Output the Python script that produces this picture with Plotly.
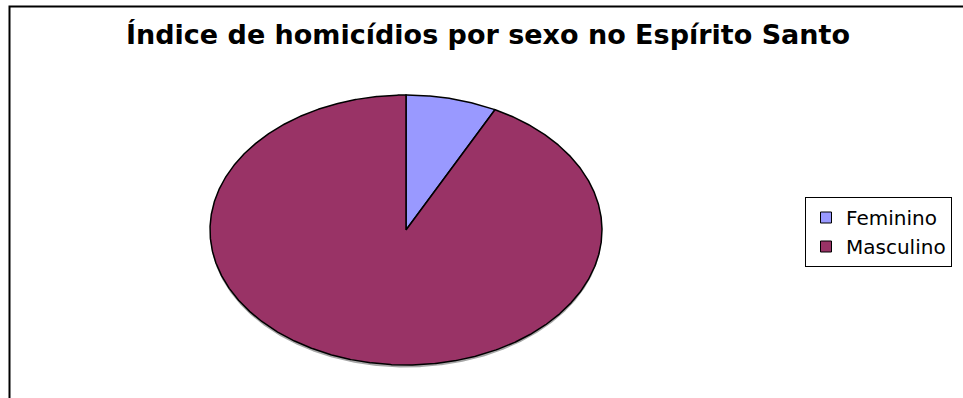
import numpy as np
import plotly.graph_objects as go

# ---- data ----
categories = ["Feminino", "Masculino"]
values = [7.5, 92.5]
colors = ["#9999FF", "#993366"]
title_text = "Índice de homicídios por sexo no Espírito Santo"

W, H = 963, 398
cx, cy, ax_a, ax_b = 406, 230, 196, 135  # ellipse geometry (pixel units on the axes)

fig = go.Figure()

def wedge(t0, t1, dx=0.0, dy=0.0):
    ts = np.linspace(t0, t1, max(int(abs(t1 - t0) * 200), 4))
    xs = np.concatenate([[cx + dx], cx + dx + ax_a * np.sin(ts), [cx + dx]])
    ys = np.concatenate([[cy + dy], cy + dy - ax_b * np.cos(ts), [cy + dy]])
    return xs, ys

# soft shadow
sx, sy = wedge(0, 2 * np.pi, 0, 2.5)
fig.add_trace(go.Scatter(x=sx, y=sy, fill="toself", mode="lines",
                         line=dict(color="rgba(0,0,0,0)", width=0),
                         fillcolor="rgba(0,0,0,0.35)", showlegend=False, hoverinfo="skip"))

total = float(sum(values))
start = 0.0
for cat, v, col in zip(categories, values, colors):
    end = start + 2 * np.pi * v / total
    xs, ys = wedge(start, end)
    fig.add_trace(go.Scatter(x=xs, y=ys, fill="toself", mode="lines",
                             line=dict(color="black", width=1.5),
                             fillcolor=col, name=cat, showlegend=False,
                             hoverinfo="text", text=f"{cat}: {v}%"))
    start = end

# legend entries
for cat, col in zip(categories, colors):
    fig.add_trace(go.Scatter(x=[None], y=[None], mode="markers", name=cat,
                             marker=dict(symbol="square", size=11, color=col,
                                         line=dict(color="black", width=1))))

fig.update_layout(
    width=W, height=H,
    margin=dict(l=0, r=0, t=0, b=0),
    paper_bgcolor="white", plot_bgcolor="white",
    xaxis=dict(range=[0, W], visible=False, fixedrange=True),
    yaxis=dict(range=[H, 0], visible=False, fixedrange=True),
    title=dict(text="<b>" + title_text + "</b>", x=488 / W, xanchor="center",
               y=1 - 35 / H, yanchor="middle",
               font=dict(family="DejaVu Sans", size=27, color="black")),
    legend=dict(x=805 / W, y=1 - 197 / H, xanchor="left", yanchor="top",
                bordercolor="black", borderwidth=1, bgcolor="white",
                font=dict(family="DejaVu Sans", size=20, color="black"),
                itemwidth=30),
    showlegend=True,
    shapes=[dict(type="rect", xref="paper", yref="paper",
                 x0=9.5 / W, x1=1.05, y0=-0.05, y1=1 - 6.5 / H,
                 line=dict(color="black", width=2))],
)

fig.write_html("out.html")
